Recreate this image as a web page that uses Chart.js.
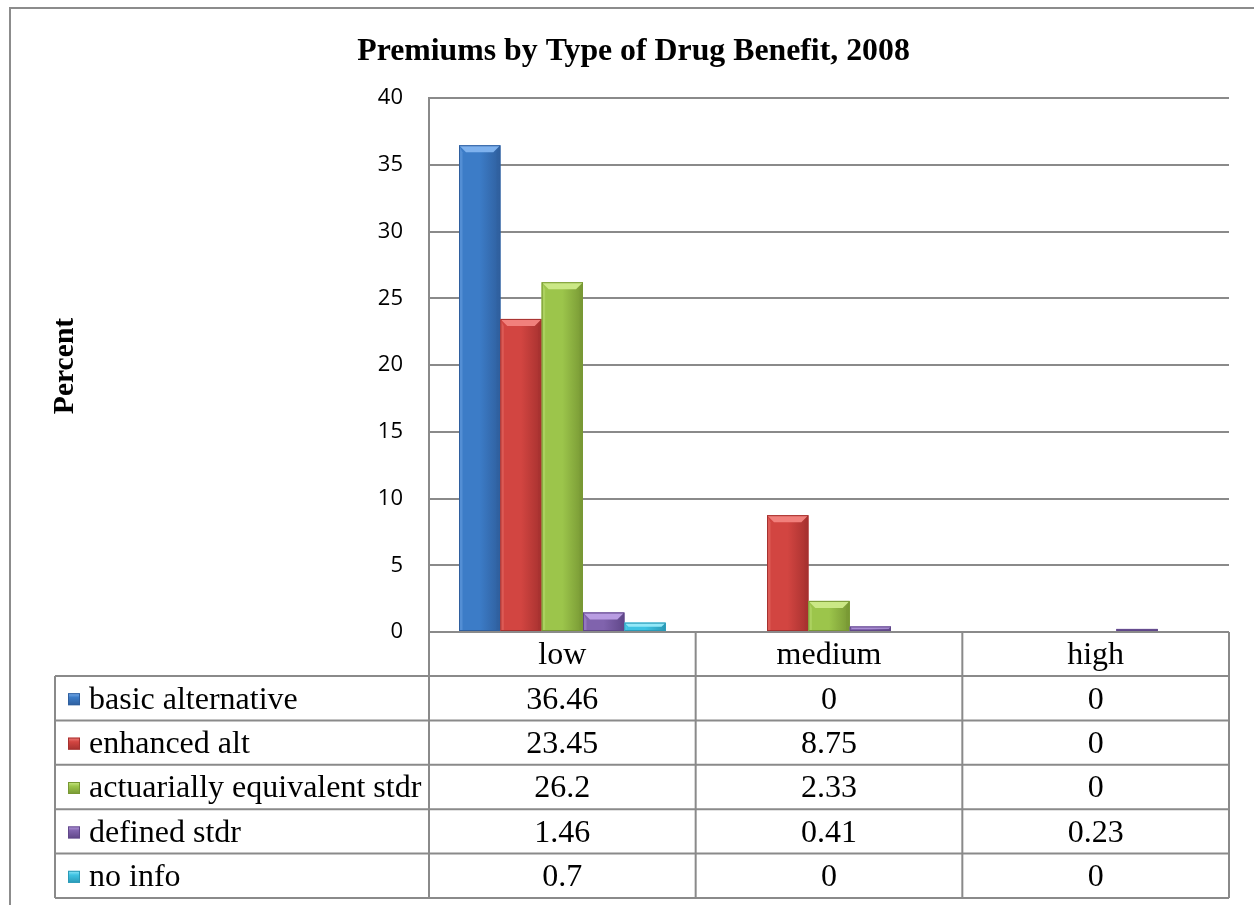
<!DOCTYPE html>
<html>
<head>
<meta charset="utf-8">
<script src="https://cdn.jsdelivr.net/npm/chart.js@4/dist/chart.umd.min.js"></script>
<style>
  html, body { margin: 0; padding: 0; background: #ffffff; }
  canvas { display: block; }
</style>
</head>
<body>
<canvas id="chart" width="1254" height="905"></canvas>
<script>
// Premium level categories (x axis / table columns)
const categories = ['low', 'medium', 'high'];

// Series names (table rows / legend keys)
const seriesNames = [
  'basic alternative',
  'enhanced alt',
  'actuarially equivalent stdr',
  'defined stdr',
  'no info'
];

// Percent of plans per premium level, one array per series
const basicAlternative = [36.46, 0, 0];
const enhancedAlt = [23.45, 8.75, 0];
const actuariallyEquivalentStdr = [26.2, 2.33, 0];
const definedStdr = [1.46, 0.41, 0.23];
const noInfo = [0.7, 0, 0];

// Value axis
const yMin = 0;
const yMax = 40;
const yStep = 5;

const chartTitle = 'Premiums by Type of Drug Benefit, 2008';
const yTitle = 'Percent';

// Bar palette: base, dark, bevel highlight
const palette = [
  { base: '#3c7cc7', dark: '#2f5f9e', light: '#7fb2ee' },
  { base: '#d24541', dark: '#a6312f', light: '#f1807c' },
  { base: '#9cc54b', dark: '#789834', light: '#cbe886' },
  { base: '#8063ad', dark: '#604789', light: '#b99de2' },
  { base: '#3ec3e3', dark: '#2a9ab7', light: '#93e8f8' }
];

const seriesValues = [basicAlternative, enhancedAlt, actuariallyEquivalentStdr, definedStdr, noInfo];

const GRID = '#8a8a8a';
const SERIF = '"Liberation Serif", "Times New Roman", serif';

// Beveled look over each bar drawn by the library
const bevelPlugin = {
  id: 'bevel',
  afterDatasetsDraw(chart) {
    const ctx = chart.ctx;
    chart.data.datasets.forEach((ds, di) => {
      const meta = chart.getDatasetMeta(di);
      const c = palette[di];
      meta.data.forEach(bar => {
        const p = bar.getProps(['x', 'y', 'base', 'width'], true);
        const h = p.base - p.y;
        if (h <= 0.5) return;
        const l = p.x - p.width / 2, r = p.x + p.width / 2;
        const b = Math.min(7, h / 2);
        ctx.save();
        // body gradient
        const g = ctx.createLinearGradient(l, 0, r, 0);
        g.addColorStop(0, c.base);
        g.addColorStop(0.5, c.base);
        g.addColorStop(1, c.dark);
        ctx.fillStyle = g;
        ctx.fillRect(l, p.y, p.width, h);
        // top bevel
        ctx.beginPath();
        ctx.moveTo(l, p.y);
        ctx.lineTo(r, p.y);
        ctx.lineTo(r - b, p.y + b);
        ctx.lineTo(l + b, p.y + b);
        ctx.closePath();
        ctx.fillStyle = c.light;
        ctx.fill();
        // left bevel
        ctx.beginPath();
        ctx.moveTo(l, p.y);
        ctx.lineTo(l + b * 0.5, p.y + b);
        ctx.lineTo(l + b * 0.5, p.base);
        ctx.lineTo(l, p.base);
        ctx.closePath();
        ctx.globalAlpha = 0.35;
        ctx.fillStyle = c.light;
        ctx.fill();
        // right bevel
        ctx.beginPath();
        ctx.moveTo(r, p.y);
        ctx.lineTo(r - b * 0.5, p.y + b);
        ctx.lineTo(r - b * 0.5, p.base);
        ctx.lineTo(r, p.base);
        ctx.closePath();
        ctx.globalAlpha = 0.5;
        ctx.fillStyle = c.dark;
        ctx.fill();
        ctx.globalAlpha = 1;
        ctx.strokeStyle = c.dark;
        ctx.lineWidth = 1;
        ctx.strokeRect(l + 0.5, p.y + 0.5, p.width - 1, h - 1);
        ctx.restore();
      });
    });
  }
};

// Frame, titles and the data table below the plot
const decorPlugin = {
  id: 'decor',
  afterDraw(chart) {
    const ctx = chart.ctx;
    const area = chart.chartArea;
    const xs = chart.scales.x;
    ctx.save();

    // outer frame (top and left edges)
    ctx.strokeStyle = '#8c8c8c';
    ctx.lineWidth = 2;
    ctx.beginPath();
    ctx.moveTo(chart.width, 8);
    ctx.lineTo(10, 8);
    ctx.lineTo(10, chart.height);
    ctx.stroke();

    // chart title
    ctx.fillStyle = '#000';
    ctx.font = 'bold 31.8px ' + SERIF;
    ctx.textAlign = 'center';
    ctx.textBaseline = 'alphabetic';
    ctx.fillText(chartTitle, 633.5, 60);

    // value axis title
    ctx.save();
    ctx.translate(73, 366);
    ctx.rotate(-Math.PI / 2);
    ctx.font = 'bold 29.6px ' + SERIF;
    ctx.fillText(yTitle, 0, 0);
    ctx.restore();

    // data table geometry
    const top = area.bottom;
    const rowH = 44.4;
    const headH = 44;
    const legendLeft = 55;
    const left = area.left, right = area.right;
    const bounds = [left];
    for (let i = 0; i < categories.length; i++) {
      const cx = xs.getPixelForValue(i);
      const next = i < categories.length - 1 ? (cx + xs.getPixelForValue(i + 1)) / 2 : right;
      bounds.push(next);
    }
    const bodyTop = top + headH;
    const bottom = bodyTop + rowH * seriesNames.length;

    ctx.strokeStyle = GRID;
    ctx.lineWidth = 2;
    ctx.beginPath();
    // header top
    ctx.moveTo(left, top); ctx.lineTo(right, top);
    // row lines
    for (let r = 0; r <= seriesNames.length; r++) {
      const y = bodyTop + r * rowH;
      ctx.moveTo(legendLeft, y); ctx.lineTo(right, y);
    }
    // verticals
    bounds.forEach(x => { ctx.moveTo(x, top); ctx.lineTo(x, bottom); });
    ctx.moveTo(legendLeft, bodyTop); ctx.lineTo(legendLeft, bottom);
    ctx.stroke();

    ctx.fillStyle = '#000';
    ctx.font = '32px ' + SERIF;
    ctx.textAlign = 'center';
    ctx.textBaseline = 'middle';
    categories.forEach((cat, i) => {
      ctx.fillText(cat, xs.getPixelForValue(i), top + headH / 2 + 2);
    });

    seriesNames.forEach((name, r) => {
      const cy = bodyTop + r * rowH + rowH / 2;
      const c = palette[r];
      // legend key
      const s = 12, sx = 68, sy = cy - s / 2 + 1;
      const g = ctx.createLinearGradient(0, sy, 0, sy + s);
      g.addColorStop(0, c.light);
      g.addColorStop(0.35, c.base);
      g.addColorStop(1, c.dark);
      ctx.fillStyle = g;
      ctx.fillRect(sx, sy, s, s);
      ctx.strokeStyle = c.dark;
      ctx.lineWidth = 1;
      ctx.strokeRect(sx + 0.5, sy + 0.5, s - 1, s - 1);

      ctx.fillStyle = '#000';
      ctx.textAlign = 'left';
      ctx.fillText(name, 89, cy + 2);
      ctx.textAlign = 'center';
      seriesValues[r].forEach((v, i) => {
        ctx.fillText(String(v), xs.getPixelForValue(i), cy + 2);
      });
    });

    ctx.restore();
  }
};

const datasets = seriesNames.map((name, i) => ({
  label: name,
  data: seriesValues[i],
  backgroundColor: palette[i].base,
  borderWidth: 0,
  categoryPercentage: 0.775,
  barPercentage: 1
}));

new Chart(document.getElementById('chart'), {
  type: 'bar',
  data: { labels: categories, datasets },
  options: {
    responsive: false,
    animation: false,
    devicePixelRatio: 1,
    layout: { padding: { left: 0, right: 25, top: 98, bottom: 273 } },
    plugins: {
      legend: { display: false },
      title: { display: false },
      tooltip: { enabled: false }
    },
    scales: {
      x: { display: false },
      y: {
        min: yMin,
        max: yMax,
        ticks: {
          stepSize: yStep,
          color: '#000',
          padding: 26,
          font: { family: '"Open Sans", sans-serif', size: 22 }
        },
        grid: { color: GRID, lineWidth: 2, drawTicks: false },
        border: { display: true, color: GRID, width: 2 },
        afterFit(scale) { scale.width = 429; }
      }
    }
  },
  plugins: [bevelPlugin, decorPlugin]
});
</script>
</body>
</html>
